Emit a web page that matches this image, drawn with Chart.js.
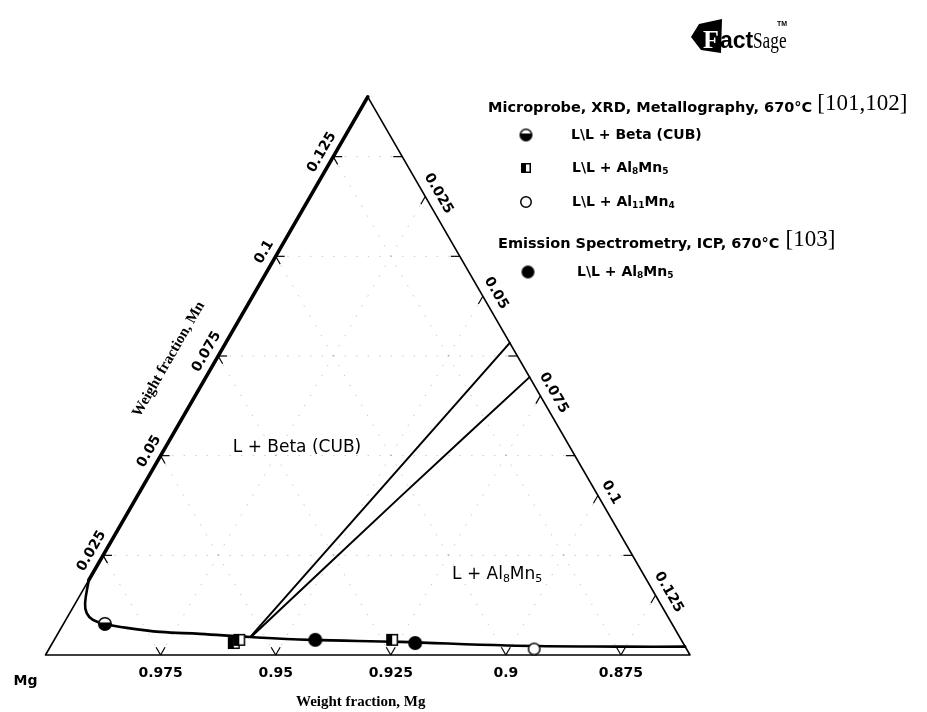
<!DOCTYPE html>
<html>
<head>
<meta charset="utf-8">
<title>Mg-Al-Mn isothermal section, 670 °C</title>
<script src="https://cdn.jsdelivr.net/npm/chart.js@4.4.1/dist/chart.umd.min.js"></script>
<style>
  html, body { margin: 0; padding: 0; background: #fff; }
  #wrap { width: 927px; height: 712px; position: relative; }
</style>
</head>
<body>
<div id="wrap"><canvas id="chart" width="927" height="712"></canvas></div>
<script>
// ===== DATA (weight fractions; Mg = 1 - Mn - Al) =====
const SPAN = 0.14;                        // Mg corner section: Mg from 1 down to 0.86
const tickValues = [0.025, 0.05, 0.075, 0.1, 0.125];
const mgTickLabels = ['0.975', '0.95', '0.925', '0.9', '0.875'];
const mnTickLabels = ['0.025', '0.05', '0.075', '0.1', '0.125'];
const alTickLabels = ['0.025', '0.05', '0.075', '0.1', '0.125'];

// liquidus boundary L / L + solid
const liquidusMn = [0.0188, 0.0130, 0.0105, 0.0088, 0.0078, 0.0068, 0.0058, 0.0053, 0.0045, 0.0038, 0.0033, 0.0024, 0.0021, 0.0021];
const liquidusAl = [0.0000, 0.0021, 0.0037, 0.0059, 0.0090, 0.0143, 0.0220, 0.0309, 0.0422, 0.0556, 0.0754, 0.0990, 0.1243, 0.1379];

// three-phase triangle L + Beta + Al8Mn5 (two tie-lines)
const tieUpperMn = [0.0045, 0.0783];
const tieUpperAl = [0.0422, 0.0617];
const tieLowerMn = [0.0045, 0.0396, 0.0697];
const tieLowerAl = [0.0424, 0.0572, 0.0703];

// binary Mg-Mn edge where the liquidus leaves it
const edgeSplitMn = 0.0188;

// experimental points
const betaMn = [0.0078];            const betaAl = [0.0090];
const al8mn5Mn = [0.0030, 0.0038, 0.0038]; const al8mn5Al = [0.0394, 0.0402, 0.0734];
const al11mn4Mn = [0.0015];         const al11mn4Al = [0.1054];
const icpMn = [0.0038, 0.0030];     const icpAl = [0.0567, 0.0788];

// ===== HELPERS =====
const SQ3 = Math.sqrt(3) / 2;
const tern = (mn, al) => ({ x: al + mn / 2, y: mn * SQ3 });
const series = (mnArr, alArr) => mnArr.map((mn, i) => tern(mn, alArr[i]));

// px per weight fraction unit, used to fit the section on the canvas
const UNIT = 644.5 / SPAN;
const X_MIN = -45.5 / UNIT, X_MAX = X_MIN + 927 / UNIT;
const Y_MAX = 655 / UNIT, Y_MIN = Y_MAX - 712 / UNIT;

/**
 * Build a small canvas used as a point style
 * @param {string} kind - halfCircle | halfSquare | openCircle | dot
 * @param {number} d - diameter in px
 */
function markerCanvas(kind, d) {
    const c = document.createElement('canvas');
    c.width = c.height = d + 2;
    const g = c.getContext('2d');
    const m = (d + 2) / 2, r = d / 2 - 0.75;
    g.lineWidth = 1.5;
    g.strokeStyle = '#000';
    g.fillStyle = '#000';
    if (kind === 'halfCircle') {
        g.beginPath(); g.arc(m, m, r, 0, Math.PI * 2); g.fillStyle = '#fff'; g.fill();
        g.beginPath(); g.arc(m, m, r, -0.08 * Math.PI, 1.08 * Math.PI); g.closePath();
        g.fillStyle = '#000'; g.fill();
        g.beginPath(); g.arc(m, m, r, 0, Math.PI * 2); g.stroke();
    } else if (kind === 'halfSquare') {
        const s = d - 1.5, o = (d + 2 - s) / 2;
        g.fillStyle = '#fff'; g.fillRect(o, o, s, s);
        g.fillStyle = '#000'; g.fillRect(o, o, s / 2, s);
        g.strokeRect(o, o, s, s);
    } else if (kind === 'openCircle') {
        g.beginPath(); g.arc(m, m, r, 0, Math.PI * 2);
        g.fillStyle = '#fff'; g.fill(); g.stroke();
    } else {
        g.beginPath(); g.arc(m, m, d / 2, 0, Math.PI * 2); g.fill();
    }
    return c;
}

const plotMarks = {
    beta: markerCanvas('halfCircle', 14),
    al8mn5: markerCanvas('halfSquare', 12),
    al11mn4: markerCanvas('openCircle', 13),
    icp: markerCanvas('dot', 14)
};
const legendMarks = {
    beta: markerCanvas('halfCircle', 13),
    al8mn5: markerCanvas('halfSquare', 10),
    al11mn4: markerCanvas('openCircle', 12),
    icp: markerCanvas('dot', 13)
};

// text with subscript runs: parts = [[text, isSub], ...]
function drawRich(ctx, parts, x, y, font, subFont) {
    let cx = x;
    parts.forEach(([t, sub]) => {
        ctx.font = sub ? subFont : font;
        ctx.fillText(t, cx, sub ? y + 4 : y);
        cx += ctx.measureText(t).width;
    });
}

// ===== TERNARY FRAME PLUGIN =====
const ternaryFrame = {
    id: 'ternaryFrame',
    beforeDatasetsDraw(chart) {
        const { ctx, scales: { x, y } } = chart;
        const px = p => [x.getPixelForValue(p.x), y.getPixelForValue(p.y)];
        ctx.save();
        ctx.strokeStyle = 'rgba(0,0,0,0.22)';
        ctx.lineWidth = 1;
        ctx.setLineDash([1.5, 10]);
        tickValues.forEach(v => {
            [[tern(v, 0), tern(v, SPAN - v)],      // constant Mn
             [tern(0, v), tern(SPAN - v, v)],      // constant Al
             [tern(0, v), tern(v, 0)]]             // constant Mg
                .forEach(([a, b]) => {
                    const [x1, y1] = px(a), [x2, y2] = px(b);
                    ctx.beginPath(); ctx.moveTo(x1, y1); ctx.lineTo(x2, y2); ctx.stroke();
                });
        });
        ctx.restore();
    },
    afterDatasetsDraw(chart) {
        const { ctx, scales: { x, y } } = chart;
        const px = p => [x.getPixelForValue(p.x), y.getPixelForValue(p.y)];
        const TL = 9;
        ctx.save();
        ctx.strokeStyle = '#000';
        ctx.lineWidth = 1.2;
        const arm = (p, dx, dy) => {
            const [x0, y0] = px(p);
            ctx.beginPath(); ctx.moveTo(x0, y0); ctx.lineTo(x0 + dx * TL, y0 + dy * TL); ctx.stroke();
        };
        tickValues.forEach(v => {
            arm(tern(0, v), -0.5, -SQ3); arm(tern(0, v), 0.5, -SQ3);   // bottom V
            arm(tern(v, 0), 1, 0); arm(tern(v, 0), 0.5, SQ3);          // left edge
            arm(tern(v, SPAN - v), -1, 0);                               // right edge, Mn lines
            arm(tern(SPAN - v, v), -0.5, SQ3);                           // right edge, Al lines
        });

        // tick labels
        ctx.fillStyle = '#000';
        ctx.font = 'bold 14px "DejaVu Sans"';
        ctx.textAlign = 'center';
        ctx.textBaseline = 'middle';
        tickValues.forEach((v, i) => {
            let [bx, by] = px(tern(0, v));
            ctx.fillText(mgTickLabels[i], bx, by + 18);

            let [lx, ly] = px(tern(v, 0));
            ctx.save();
            ctx.translate(lx - 12 * SQ3 - 1, ly - 12 * 0.5 + 1.7);
            ctx.rotate(-Math.PI / 3);
            ctx.fillText(mnTickLabels[i], 0, 0);
            ctx.restore();

            let [rx, ry] = px(tern(SPAN - v, v));
            ctx.save();
            ctx.translate(rx + 13 * SQ3 + 2, ry - 13 * 0.5 + 3.5);
            ctx.rotate(Math.PI / 3);
            ctx.fillText(alTickLabels[i], 0, 0);
            ctx.restore();
        });

        // corner and axis titles
        const [mgx, mgy] = px(tern(0, 0));
        ctx.font = 'bold 14px "DejaVu Sans"';
        ctx.fillText('Mg', mgx - 20, mgy + 26);

        ctx.font = 'bold 15px "Liberation Serif"';
        const [cx] = px(tern(0, SPAN / 2));
        ctx.fillText('Weight fraction, Mg', cx - 7, mgy + 47);

        const [ax, ay] = px(tern(0.069, 0));
        ctx.save();
        ctx.translate(ax - 41 * SQ3, ay - 41 * 0.5);
        ctx.rotate(-Math.PI / 3);
        ctx.fillText('Weight fraction, Mn', 0, 0);
        ctx.restore();

        // phase field labels
        ctx.font = '17px "DejaVu Sans"';
        ctx.fillText('L + Beta (CUB)', 297, 448);
        ctx.textAlign = 'left';
        drawRich(ctx, [['L + Al', false], ['8', true], ['Mn', false], ['5', true]], 452, 575,
            '17px "DejaVu Sans"', '11px "DejaVu Sans"');

        // legend
        const bold = 'bold 14.5px "DejaVu Sans"';
        const row = 'bold 14px "DejaVu Sans"';
        const sub = 'bold 9px "DejaVu Sans"';
        ctx.font = bold;
        ctx.fillText('Microprobe, XRD, Metallography, 670°C', 488, 108);
        let w = ctx.measureText('Microprobe, XRD, Metallography, 670°C').width;
        ctx.font = '23px "Liberation Serif"';
        ctx.fillText('[101,102]', 488 + w + 5, 104);

        const mark = (c, mx, my) => ctx.drawImage(c, mx - c.width / 2, my - c.height / 2);
        mark(legendMarks.beta, 526, 135);
        drawRich(ctx, [['L\\L + Beta (CUB)', false]], 571, 135, row, sub);
        mark(legendMarks.al8mn5, 526, 168);
        drawRich(ctx, [['L\\L + Al', false], ['8', true], ['Mn', false], ['5', true]], 572, 168, row, sub);
        mark(legendMarks.al11mn4, 526, 202);
        drawRich(ctx, [['L\\L + Al', false], ['11', true], ['Mn', false], ['4', true]], 572, 202, row, sub);

        ctx.font = bold;
        ctx.fillText('Emission Spectrometry, ICP, 670°C', 498, 244);
        w = ctx.measureText('Emission Spectrometry, ICP, 670°C').width;
        ctx.font = '23px "Liberation Serif"';
        ctx.fillText('[103]', 498 + w + 6, 240);
        mark(legendMarks.icp, 528, 272);
        drawRich(ctx, [['L\\L + Al', false], ['8', true], ['Mn', false], ['5', true]], 577, 272, row, sub);

        // FactSage mark
        ctx.beginPath();
        ctx.moveTo(691, 37); ctx.lineTo(699, 24); ctx.lineTo(722, 19);
        ctx.lineTo(721, 53); ctx.lineTo(701, 50); ctx.closePath();
        ctx.fillStyle = '#000'; ctx.fill();
        ctx.fillStyle = '#fff';
        ctx.font = 'bold 26px "Liberation Serif"';
        ctx.textBaseline = 'alphabetic';
        ctx.fillText('F', 703, 48);
        ctx.fillStyle = '#000';
        ctx.font = 'bold 23px "Liberation Sans"';
        ctx.fillText('act', 720, 48);
        ctx.save();
        ctx.translate(753, 48);
        ctx.scale(0.72, 1);
        ctx.font = '24px "Liberation Serif"';
        ctx.fillText('Sage', 0, 0);
        ctx.restore();
        ctx.font = 'bold 7px "Liberation Sans"';
        ctx.fillText('TM', 777, 26);
        ctx.restore();
    }
};

// ===== CHART =====
const lineSet = (data, width, tension) => ({
    data, showLine: true, pointRadius: 0, borderColor: '#000', backgroundColor: '#000',
    borderWidth: width, tension, fill: false, borderCapStyle: 'round', borderJoinStyle: 'round'
});
const markSet = (data, style) => ({
    data, showLine: false, pointStyle: style, pointRadius: 7, borderWidth: 0
});

new Chart(document.getElementById('chart'), {
    type: 'scatter',
    data: {
        datasets: [
            markSet(series(betaMn, betaAl), plotMarks.beta),
            markSet(series(al8mn5Mn, al8mn5Al), plotMarks.al8mn5),
            markSet(series(al11mn4Mn, al11mn4Al), plotMarks.al11mn4),
            markSet(series(icpMn, icpAl), plotMarks.icp),
            lineSet(series(liquidusMn, liquidusAl), 2.6, 0.4),
            lineSet(series(tieUpperMn, tieUpperAl), 2, 0),
            lineSet(series(tieLowerMn, tieLowerAl), 2, 0.15),
            lineSet([tern(edgeSplitMn, 0), tern(SPAN, 0)], 3.6, 0),
            lineSet([tern(edgeSplitMn, 0), tern(0, 0), tern(0, SPAN), tern(SPAN, 0)], 1.6, 0)
        ]
    },
    options: {
        responsive: false,
        animation: false,
        events: [],
        layout: { padding: 0, autoPadding: false },
        plugins: { legend: { display: false }, tooltip: { enabled: false } },
        scales: {
            x: { type: 'linear', display: false, min: X_MIN, max: X_MAX },
            y: { type: 'linear', display: false, min: Y_MIN, max: Y_MAX }
        }
    },
    plugins: [ternaryFrame]
});
</script>
</body>
</html>
